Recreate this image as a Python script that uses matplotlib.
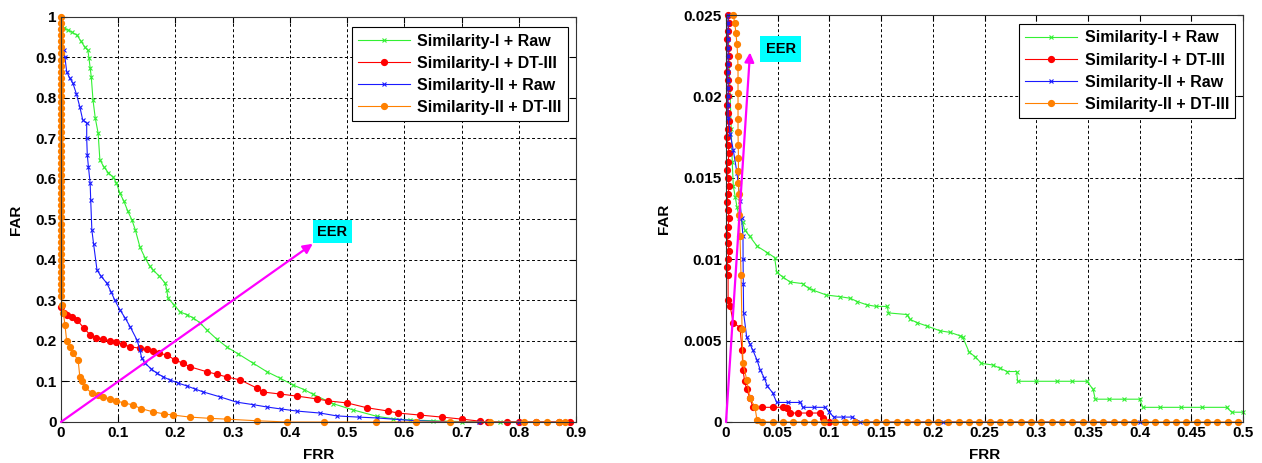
import numpy as np
import matplotlib.pyplot as plt

plt.rcParams["font.family"] = ["Liberation Sans", "DejaVu Sans"]
plt.rcParams["font.weight"] = "bold"
plt.rcParams["font.size"] = 11

labels = ["Similarity-I + Raw", "Similarity-I + DT-III", "Similarity-II + Raw", "Similarity-II + DT-III"]

# ---- left panel data (FRR, FAR) ----
green_frr_l = [0.0, 0.005, 0.012, 0.02, 0.028, 0.035, 0.042, 0.047, 0.049, 0.051, 0.053, 0.056, 0.06, 0.065,
               0.068, 0.075, 0.083, 0.091, 0.097, 0.103, 0.11, 0.117, 0.124, 0.13, 0.138, 0.147, 0.155, 0.161,
               0.172, 0.182, 0.185, 0.187, 0.197, 0.208, 0.22, 0.231, 0.243, 0.255, 0.272, 0.29, 0.31, 0.336,
               0.36, 0.383, 0.406, 0.425, 0.441, 0.476, 0.51, 0.552, 0.58, 0.61, 0.65, 0.7, 0.767, 0.8, 0.85]
green_far_l = [1.0, 0.973, 0.968, 0.962, 0.955, 0.94, 0.925, 0.918, 0.898, 0.875, 0.852, 0.795, 0.75, 0.713,
               0.647, 0.63, 0.615, 0.605, 0.59, 0.565, 0.545, 0.52, 0.499, 0.474, 0.432, 0.405, 0.385, 0.375,
               0.36, 0.343, 0.325, 0.306, 0.29, 0.272, 0.265, 0.257, 0.245, 0.227, 0.205, 0.185, 0.168, 0.145,
               0.124, 0.108, 0.091, 0.08, 0.068, 0.045, 0.03, 0.014, 0.008, 0.005, 0.003, 0.001, 0.0, 0.0, 0.0]

red_frr_l = [0.0, 0.005, 0.01, 0.02, 0.028, 0.04, 0.051, 0.062, 0.074, 0.085, 0.097, 0.108, 0.12, 0.138, 0.15,
             0.161, 0.172, 0.185, 0.2, 0.213, 0.226, 0.255, 0.272, 0.29, 0.313, 0.342, 0.353, 0.383, 0.412, 0.447,
             0.467, 0.5, 0.535, 0.572, 0.589, 0.628, 0.666, 0.701, 0.732, 0.747, 0.78, 0.8, 0.83, 0.87, 0.89]
red_far_l = [0.284, 0.27, 0.264, 0.258, 0.252, 0.232, 0.215, 0.208, 0.205, 0.2, 0.198, 0.192, 0.186, 0.182, 0.179,
             0.176, 0.17, 0.165, 0.153, 0.145, 0.136, 0.124, 0.118, 0.111, 0.104, 0.084, 0.074, 0.069, 0.064, 0.057,
             0.052, 0.047, 0.035, 0.027, 0.022, 0.017, 0.012, 0.007, 0.002, 0.0, 0.0, 0.0, 0.0, 0.0, 0.0]

blue_frr_l = [0.005, 0.007, 0.01, 0.015, 0.021, 0.027, 0.033, 0.038, 0.045, 0.045, 0.046, 0.048, 0.051, 0.052,
              0.054, 0.057, 0.063, 0.07, 0.08, 0.088, 0.094, 0.103, 0.112, 0.121, 0.133, 0.138, 0.141, 0.147,
              0.157, 0.167, 0.178, 0.19, 0.205, 0.22, 0.235, 0.249, 0.278, 0.307, 0.335, 0.36, 0.385, 0.412,
              0.453, 0.482, 0.52, 0.552, 0.59, 0.622, 0.68, 0.73, 0.8, 0.83, 0.87, 0.88]
blue_far_l = [0.918, 0.9, 0.865, 0.85, 0.836, 0.81, 0.778, 0.746, 0.738, 0.7, 0.66, 0.63, 0.59, 0.548,
              0.474, 0.44, 0.375, 0.36, 0.343, 0.32, 0.301, 0.277, 0.257, 0.235, 0.202, 0.178, 0.158, 0.145,
              0.132, 0.121, 0.112, 0.104, 0.096, 0.089, 0.081, 0.074, 0.062, 0.049, 0.043, 0.037, 0.032, 0.027,
              0.022, 0.015, 0.012, 0.01, 0.006, 0.003, 0.0, 0.0, 0.0, 0.0, 0.0, 0.0]

orange_frr_l = [0.0] * 47 + [0.002, 0.004, 0.007, 0.01, 0.015, 0.021, 0.03, 0.033, 0.036, 0.042, 0.054, 0.065,
                             0.074, 0.085, 0.097, 0.11, 0.126, 0.14, 0.161, 0.18, 0.196, 0.226, 0.26, 0.29,
                             0.342, 0.395, 0.46, 0.55, 0.62, 0.68, 0.75, 0.81, 0.83, 0.85, 0.87, 0.88]
orange_far_l = [1.0, 0.985, 0.97, 0.955, 0.94, 0.925, 0.91, 0.895, 0.88, 0.865, 0.85, 0.835, 0.82, 0.805,
                0.79, 0.775, 0.76, 0.745, 0.73, 0.715, 0.7, 0.685, 0.67, 0.655, 0.64, 0.625, 0.61, 0.595,
                0.58, 0.565, 0.55, 0.535, 0.52, 0.505, 0.49, 0.475, 0.46, 0.445, 0.43, 0.415, 0.4, 0.385,
                0.37, 0.355, 0.34, 0.325, 0.31,
                0.29, 0.27, 0.24, 0.2, 0.185, 0.17, 0.153, 0.111, 0.1, 0.086, 0.071, 0.066, 0.062, 0.057, 0.052,
                0.047, 0.042, 0.033, 0.025, 0.02, 0.017, 0.012, 0.009, 0.007, 0.003, 0.0,
                0.0, 0.0, 0.0, 0.0, 0.0, 0.0, 0.0, 0.0, 0.0, 0.0]

# ---- right panel data (FRR, FAR) ----
green_frr_r = [0.002, 0.003, 0.004, 0.005, 0.006, 0.007, 0.009, 0.0106, 0.013, 0.016, 0.018, 0.023, 0.03,
               0.04, 0.047, 0.049, 0.055, 0.062, 0.074, 0.08, 0.084, 0.097, 0.11, 0.12, 0.127, 0.136, 0.145,
               0.156, 0.157, 0.175, 0.178, 0.185, 0.194, 0.207, 0.217, 0.226, 0.229, 0.235, 0.241, 0.247, 0.258,
               0.265, 0.272, 0.281, 0.282, 0.3, 0.32, 0.335, 0.349, 0.355, 0.357, 0.37, 0.385, 0.4, 0.403,
               0.42, 0.44, 0.46, 0.484, 0.489, 0.5]
green_far_r = [0.025, 0.022, 0.02, 0.018, 0.016, 0.0145, 0.0138, 0.0132, 0.0125, 0.0123, 0.0118, 0.0114, 0.0108,
               0.0104, 0.0101, 0.0092, 0.0089, 0.0086, 0.0085, 0.0082, 0.0081, 0.0078, 0.0077, 0.0076, 0.0074,
               0.0072, 0.0071, 0.0071, 0.0067, 0.0066, 0.0063, 0.0061, 0.0059, 0.0056, 0.0055, 0.0053, 0.0052,
               0.0043, 0.004, 0.0036, 0.0035, 0.0033, 0.0031, 0.0031, 0.0025, 0.0025, 0.0025, 0.0025, 0.0025,
               0.002, 0.0014, 0.0014, 0.0014, 0.0014, 0.0009, 0.0009, 0.0009, 0.0009, 0.0009, 0.0006, 0.0006]

red_frr_r = [0.002, 0.003, 0.002, 0.001, 0.002, 0.003, 0.002, 0.001, 0.002, 0.003, 0.002, 0.001, 0.002, 0.003,
             0.002, 0.001, 0.002, 0.003, 0.002, 0.001, 0.002, 0.003, 0.002, 0.001, 0.002, 0.003, 0.002, 0.001,
             0.002, 0.003, 0.002, 0.001, 0.002, 0.002, 0.004, 0.007, 0.0135, 0.0155, 0.0164, 0.018, 0.02, 0.023,
             0.026, 0.035, 0.045, 0.055, 0.059, 0.062, 0.07, 0.08, 0.091, 0.094, 0.1]
red_far_r = [0.025, 0.0245, 0.024, 0.0235, 0.023, 0.0225, 0.022, 0.0215, 0.021, 0.0205, 0.02, 0.0195, 0.019,
             0.0185, 0.018, 0.0175, 0.017, 0.0165, 0.016, 0.0155, 0.015, 0.0145, 0.014, 0.0135, 0.013, 0.0125,
             0.012, 0.0115, 0.011, 0.0105, 0.01, 0.0095, 0.009, 0.0075, 0.0071, 0.0061, 0.0058, 0.0044, 0.0032,
             0.0025, 0.002, 0.0015, 0.0009, 0.0009, 0.0009, 0.0009, 0.00086, 0.00055, 0.00055, 0.00055, 0.00055,
             0.00025, 0.0]

blue_frr_r = [0.002, 0.002, 0.002, 0.002, 0.002, 0.002, 0.002, 0.002, 0.002, 0.002, 0.002, 0.002, 0.002, 0.004,
              0.007, 0.0106, 0.0135, 0.015, 0.0164, 0.0165, 0.0167, 0.017, 0.02, 0.023, 0.026, 0.03, 0.033, 0.037,
              0.04, 0.045, 0.049, 0.06, 0.072, 0.074, 0.085, 0.096, 0.1, 0.104, 0.113, 0.122, 0.13, 0.21, 0.4]
blue_far_r = [0.025, 0.0245, 0.024, 0.0235, 0.023, 0.0225, 0.022, 0.0215, 0.021, 0.0205, 0.02, 0.0195, 0.0187,
              0.0177, 0.0167, 0.0153, 0.0136, 0.0125, 0.0114, 0.01, 0.0085, 0.0067, 0.0052, 0.0048, 0.0044,
              0.0038, 0.0032, 0.0027, 0.0022, 0.0018, 0.0012, 0.0012, 0.0012, 0.0009, 0.0009, 0.0009, 0.0006,
              0.0003, 0.0003, 0.0003, 0.0, 0.0, 0.0]

orange_frr_r = [0.007, 0.0085, 0.0095, 0.0106, 0.0112, 0.0116, 0.0116, 0.0116, 0.0116, 0.0116, 0.0116, 0.0118,
                0.012, 0.012, 0.012, 0.0125, 0.013, 0.0135, 0.0145, 0.0155, 0.0164, 0.02, 0.023, 0.028, 0.03,
                0.035, 0.045, 0.055, 0.065, 0.075, 0.085, 0.095, 0.105, 0.115, 0.125, 0.135, 0.145, 0.155, 0.165,
                0.175, 0.185, 0.195, 0.205, 0.215, 0.225, 0.235, 0.245, 0.255, 0.265, 0.275, 0.285, 0.295, 0.305,
                0.315, 0.325, 0.335, 0.345, 0.355, 0.365, 0.375, 0.385, 0.395, 0.405, 0.415, 0.425, 0.435, 0.445,
                0.455, 0.465, 0.475, 0.485, 0.495]
orange_far_r = [0.025, 0.0245, 0.0239, 0.0232, 0.0225, 0.0218, 0.021, 0.0202, 0.0194, 0.0186, 0.0178, 0.017,
                0.0162, 0.0154, 0.0147, 0.014, 0.0127, 0.0114, 0.009, 0.0057, 0.0036, 0.0026, 0.0015, 0.0009,
                0.0001] + [0.0] * 47

colors = ["#33f033", "#ff0000", "#1a1aff", "#ff8000"]
markers = ["x", "o", "x", "o"]

fig = plt.figure(figsize=(12.62, 4.63), dpi=100)
ax1 = fig.add_axes([0.0483, 0.0886, 0.4081, 0.8747])
ax2 = fig.add_axes([0.5753, 0.0886, 0.4097, 0.879])

left_sets = [(green_frr_l, green_far_l), (red_frr_l, red_far_l), (blue_frr_l, blue_far_l), (orange_frr_l, orange_far_l)]
right_sets = [(green_frr_r, green_far_r), (red_frr_r, red_far_r), (blue_frr_r, blue_far_r), (orange_frr_r, orange_far_r)]

for ax, sets in [(ax1, left_sets), (ax2, right_sets)]:
    for (x, y), c, m, lab in zip(sets, colors, markers, labels):
        if m == "x":
            ax.plot(x, y, color=c, marker="x", markersize=3.5, markeredgewidth=0.8, linewidth=0.8,
                    label=lab, clip_on=False)
        else:
            ax.plot(x, y, color=c, marker="o", markersize=4.2, markerfacecolor=c, markeredgecolor=c,
                    linewidth=0.8, label=lab, clip_on=False)

# axes setup
ax1.set_xlim(0, 0.9)
ax1.set_ylim(0, 1)
ax1.set_xticks([0, 0.1, 0.2, 0.3, 0.4, 0.5, 0.6, 0.7, 0.8, 0.9])
ax1.set_xticklabels(["0", "0.1", "0.2", "0.3", "0.4", "0.5", "0.6", "0.7", "0.8", "0.9"])
ax1.set_yticks([0, 0.1, 0.2, 0.3, 0.4, 0.5, 0.6, 0.7, 0.8, 0.9, 1])
ax1.set_yticklabels(["0", "0.1", "0.2", "0.3", "0.4", "0.5", "0.6", "0.7", "0.8", "0.9", "1"])

ax2.set_xlim(0, 0.5)
ax2.set_ylim(0, 0.025)
ax2.set_xticks([0, 0.05, 0.1, 0.15, 0.2, 0.25, 0.3, 0.35, 0.4, 0.45, 0.5])
ax2.set_xticklabels(["0", "0.05", "0.1", "0.15", "0.2", "0.25", "0.3", "0.35", "0.4", "0.45", "0.5"])
ax2.set_yticks([0, 0.005, 0.01, 0.015, 0.02, 0.025])
ax2.set_yticklabels(["0", "0.005", "0.01", "0.015", "0.02", "0.025"])

for ax, lx, top in [(ax1, -0.073, 0.975), (ax2, -0.106, 0.978)]:
    ax.grid(True, color="black", linestyle=(0, (3, 2.5)), linewidth=0.7)
    ax.set_axisbelow(True)
    ax.tick_params(direction="in", top=True, right=True, length=4, width=0.8, labelsize=11, pad=3)
    for s in ax.spines.values():
        s.set_linewidth(0.8)
        s.set_color("#333333")
    ax.set_xlabel("FRR", fontsize=11, fontweight="bold")
    ax.set_ylabel("FAR", fontsize=11, fontweight="bold")
    ax.xaxis.set_label_coords(0.5, -0.064)
    ax.yaxis.set_label_coords(lx, 0.5)
    leg = ax.legend(loc="upper right", bbox_to_anchor=(0.985, top), borderaxespad=0, fancybox=False,
                    framealpha=1, edgecolor="black", handlelength=3.2, borderpad=0.4, labelspacing=0.45,
                    handletextpad=0.5, prop={"weight": "bold", "size": 11.5})
    leg.get_frame().set_linewidth(0.8)

# EER annotations
ax1.annotate("", xy=(0.44, 0.44), xytext=(0, 0),
             arrowprops=dict(arrowstyle="-|>", color="#ff00ff", lw=1.6, mutation_scale=14, shrinkA=0, shrinkB=0))
ax1.text(0.474, 0.47, "EER", ha="center", va="center", fontsize=10.5, fontweight="bold",
         bbox=dict(facecolor="#00ffff", edgecolor="none", boxstyle="square,pad=0.3"))

ax2.annotate("", xy=(0.0232, 0.0227), xytext=(0, 0),
             arrowprops=dict(arrowstyle="-|>", color="#ff00ff", lw=1.6, mutation_scale=14, shrinkA=0, shrinkB=0))
ax2.text(0.0527, 0.0229, "EER", ha="center", va="center", fontsize=10.5, fontweight="bold",
         bbox=dict(facecolor="#00ffff", edgecolor="none", boxstyle="square,pad=0.4"))

plt.savefig("out.png", dpi=100)
